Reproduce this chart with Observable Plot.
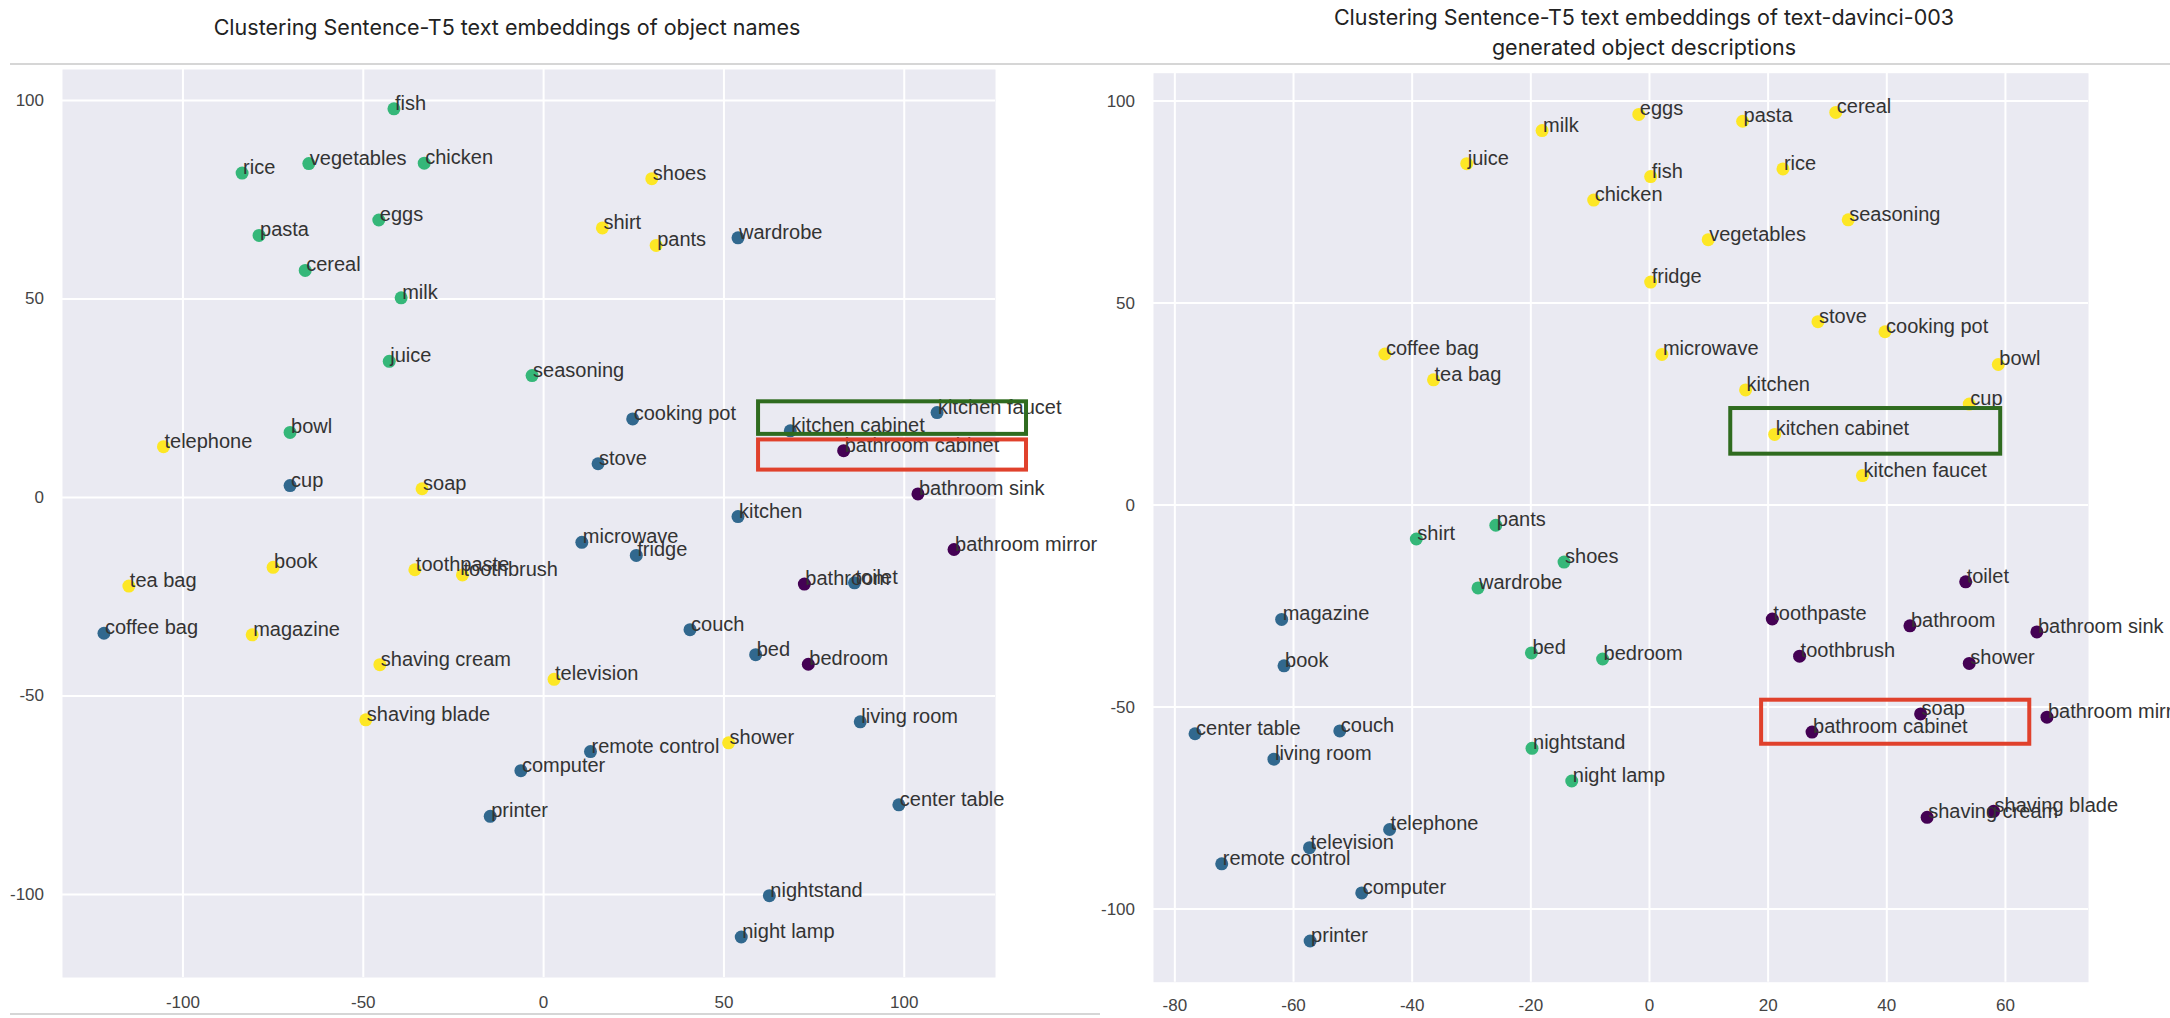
<!DOCTYPE html>
<html>
<head>
<meta charset="utf-8">
<script src="https://cdn.jsdelivr.net/npm/d3@7"></script>
<script src="https://cdn.jsdelivr.net/npm/@observablehq/plot@0.6"></script>
<style>
  html, body { margin: 0; padding: 0; background: #fff; }
  body { width: 2170px; height: 1018px; overflow: hidden; position: relative; }
  .title { position: absolute; font-family: Inter, "Noto Sans", sans-serif; font-size: 21.5px; line-height: 30px; color: #222; text-align: center; white-space: nowrap; }
  .rule { position: absolute; background: #d6d6d6; height: 2px; }
  .panel { position: absolute; top: 64px; }
</style>
</head>
<body>
<div class="rule" style="left:10px; top:63px; width:2160px;"></div>
<div class="rule" style="left:10px; top:1013px; width:1090px;"></div>
<div class="title" style="left:107px; top:12px; width:800px;">Clustering Sentence-T5 text embeddings of object names</div>
<div class="title" style="left:1244px; top:2px; width:800px;">Clustering Sentence-T5 text embeddings of text-davinci-003<br>generated object descriptions</div>
<div id="left" class="panel" style="left:0px; width:1100px;"></div>
<div id="right" class="panel" style="left:1085px; width:1085px;"></div>
<script>
// ---- cluster palette (viridis, 4 clusters) ----
const clusterColors = ["#440154", "#31688e", "#35b779", "#fde725"];

// ---- left panel: object names ----
const leftNames = ["fish","rice","vegetables","chicken","shoes","eggs","pasta","shirt","pants","wardrobe",
  "cereal","milk","juice","seasoning","cooking pot","kitchen faucet","kitchen cabinet","bowl","telephone","bathroom cabinet",
  "stove","cup","soap","bathroom sink","kitchen","microwave","fridge","bathroom mirror","book","toothpaste",
  "toothbrush","tea bag","bathroom","toilet","coffee bag","magazine","couch","bed","bedroom","shaving cream",
  "television","shaving blade","living room","shower","remote control","computer","center table","printer","nightstand","night lamp"];
const leftX = [-41.5,-83.6,-65.1,-33.1,30.0,-45.7,-78.9,16.3,31.2,53.9,
  -66.1,-39.5,-42.8,-3.2,24.7,109.1,68.4,-70.3,-105.4,83.2,
  15.1,-70.3,-33.7,103.8,53.9,10.6,25.7,113.8,-75.0,-35.7,
  -22.5,-115.0,72.3,86.2,-121.9,-80.8,40.6,58.8,73.4,-45.4,
  2.9,-49.3,87.8,51.3,13.0,-6.3,98.5,-14.8,62.6,54.8];
const leftY = [97.9,81.7,84.1,84.2,80.3,69.9,66.0,67.9,63.5,65.4,
  57.2,50.3,34.3,30.7,19.8,21.4,16.8,16.4,12.8,11.8,
  8.5,3.0,2.2,0.9,-4.8,-11.3,-14.6,-13.1,-17.6,-18.2,
  -19.5,-22.3,-21.8,-21.5,-34.2,-34.6,-33.3,-39.6,-42.0,-42.1,
  -45.8,-56.0,-56.5,-61.8,-64.0,-68.8,-77.4,-80.3,-100.3,-110.7];
const leftCluster = [2,2,2,2,3,2,2,3,3,1,
  2,2,2,2,1,1,1,2,3,0,
  1,1,3,0,1,1,1,0,3,3,
  3,3,0,1,1,3,1,1,0,3,
  3,3,1,3,1,1,1,1,1,1];
const leftXTicks = [-100, -50, 0, 50, 100];
const leftYTicks = [-100, -50, 0, 50, 100];

// ---- right panel: generated descriptions ----
const rightNames = ["eggs","milk","pasta","cereal","juice","fish","rice","chicken","seasoning","vegetables",
  "fridge","stove","cooking pot","coffee bag","microwave","bowl","tea bag","kitchen","cup","kitchen cabinet",
  "kitchen faucet","pants","shirt","shoes","wardrobe","toilet","magazine","toothpaste","bathroom","bathroom sink",
  "bed","bedroom","toothbrush","shower","book","soap","bathroom mirror","bathroom cabinet","center table","couch",
  "living room","nightstand","night lamp","shaving blade","shaving cream","telephone","television","remote control","computer","printer"];
const rightX = [-1.8,-18.1,15.7,31.4,-30.8,0.2,22.5,-9.4,33.5,9.9,
  0.2,28.4,39.7,-44.6,2.1,58.8,-36.4,16.2,53.9,21.1,
  35.9,-25.9,-39.3,-14.4,-28.9,53.3,-62.0,20.7,43.9,65.3,
  -19.9,-7.9,25.3,53.9,-61.6,45.7,67.0,27.4,-76.6,-52.2,
  -63.3,-19.8,-13.1,58.0,46.8,-43.8,-57.3,-72.1,-48.5,-57.2];
const rightY = [96.7,92.7,95.0,97.2,84.5,81.3,83.2,75.5,70.6,65.7,
  55.2,45.4,42.9,37.4,37.3,34.8,31.0,28.5,25.0,17.5,
  7.3,-5.0,-8.4,-14.1,-20.5,-19.0,-28.3,-28.2,-29.9,-31.4,
  -36.6,-38.1,-37.4,-39.2,-39.8,-51.7,-52.5,-56.2,-56.6,-55.9,
  -62.9,-60.2,-68.3,-75.8,-77.3,-80.3,-84.8,-88.8,-96.0,-107.9];
const rightCluster = [3,3,3,3,3,3,3,3,3,3,
  3,3,3,3,3,3,3,3,3,3,
  3,2,2,2,2,0,1,0,0,0,
  2,2,0,0,1,0,0,0,1,1,
  1,2,2,0,0,1,1,1,1,1];
const rightXTicks = [-80, -60, -40, -20, 0, 20, 40, 60];
const rightYTicks = [-100, -50, 0, 50, 100];

// ---- highlight boxes (data units): kitchen cabinet (green), bathroom cabinet (red) ----
const boxColors = ["#2f6b1f", "#e0412c"];
const leftBoxX1 = [59.6, 59.6], leftBoxX2 = [133.9, 133.9];
const leftBoxY1 = [24.1, 14.5], leftBoxY2 = [15.9, 6.9];
const rightBoxX1 = [13.7, 18.9], rightBoxX2 = [59.2, 64.1];
const rightBoxY1 = [23.9, -48.3], rightBoxY2 = [12.6, -59.2];

function panel(cfg) {
  const data = cfg.names.map((n, i) => ({name: n, x: cfg.xs[i], y: cfg.ys[i], c: cfg.cl[i]}));
  const boxes = boxColors.map((col, i) => ({x1: cfg.bx1[i], x2: cfg.bx2[i], y1: cfg.by1[i], y2: cfg.by2[i], col}));
  return Plot.plot({
    width: cfg.width,
    height: 954,
    marginLeft: cfg.ml, marginRight: cfg.mr, marginTop: cfg.mt, marginBottom: cfg.mb,
    x: {domain: cfg.xDomain, label: null},
    y: {domain: cfg.yDomain, label: null},
    color: {type: "ordinal", domain: [0, 1, 2, 3], range: clusterColors},
    style: {background: "transparent", overflow: "visible", maxWidth: "none",
            fontFamily: "'Liberation Sans', Arial, sans-serif", fontSize: "17px", color: "#444"},
    marks: [
      Plot.frame({fill: "#eaeaf2", stroke: "none"}),
      Plot.gridX(cfg.xTicks, {stroke: "#fff", strokeOpacity: 1, strokeWidth: 2}),
      Plot.gridY(cfg.yTicks, {stroke: "#fff", strokeOpacity: 1, strokeWidth: 2}),
      Plot.axisX(cfg.xTicks, {tickSize: 0, tickPadding: cfg.xPad, fontSize: 17, fill: "#444", label: null, tickFormat: d => String(d)}),
      Plot.axisY(cfg.yTicks, {tickSize: 0, tickPadding: 18.5, fontSize: 17, fill: "#444", label: null, tickFormat: d => String(d)}),
      Plot.dot(data, {x: "x", y: "y", fill: "c", r: 6.5}),
      Plot.text(data, {x: "x", y: "y", text: "name", textAnchor: "start", lineAnchor: "bottom", dx: 1, dy: 1, fontSize: 20, fill: "#333"}),
      ...boxes.map(b => Plot.rect([b], {x1: "x1", x2: "x2", y1: "y1", y2: "y2", fill: "none", stroke: b.col, strokeWidth: 4}))
    ]
  });
}

document.getElementById("left").append(panel({
  names: leftNames, xs: leftX, ys: leftY, cl: leftCluster,
  width: 1100, ml: 62, mr: 105, mt: 5, mb: 41,
  xDomain: [-133.4, 125.3], yDomain: [-120.9, 107.8],
  xTicks: leftXTicks, yTicks: leftYTicks, xPad: 18,
  bx1: leftBoxX1, bx2: leftBoxX2, by1: leftBoxY1, by2: leftBoxY2
}));

document.getElementById("right").append(panel({
  names: rightNames, xs: rightX, ys: rightY, cl: rightCluster,
  width: 1085, ml: 68, mr: 82, mt: 8.7, mb: 36.3,
  xDomain: [-83.6, 74.0], yDomain: [-118.1, 106.9],
  xTicks: rightXTicks, yTicks: rightYTicks, xPad: 17,
  bx1: rightBoxX1, bx2: rightBoxX2, by1: rightBoxY1, by2: rightBoxY2
}));
</script>
</body>
</html>
